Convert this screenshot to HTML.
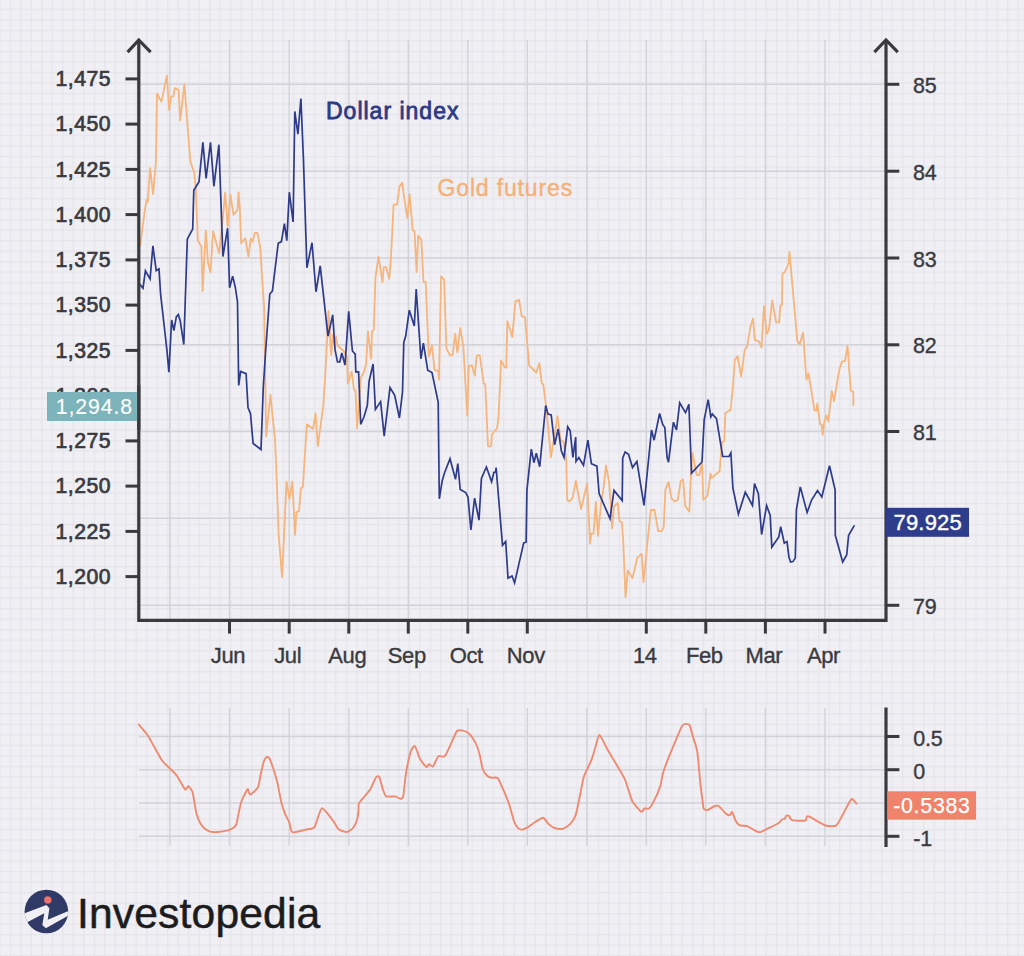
<!DOCTYPE html>
<html><head><meta charset="utf-8"><title>Dollar index vs Gold futures</title>
<style>
html,body{margin:0;padding:0;background:#f0eff4;}
body{width:1024px;height:956px;overflow:hidden;font-family:"Liberation Sans",sans-serif;}
svg{display:block;}
text{font-family:"Liberation Sans",sans-serif;}
</style></head><body>
<svg width="1024" height="956" viewBox="0 0 1024 956">
<defs>
<pattern id="fine" x="-0.85" y="8.65" width="10.498" height="10.515" patternUnits="userSpaceOnUse">
<rect x="0" y="0" width="10.6" height="10.6" fill="#f0eff4"/>
<rect x="0" y="0" width="1.3" height="10.6" fill="#e6e5eb"/>
<rect x="0" y="0" width="10.6" height="1.3" fill="#e6e5eb"/>
</pattern>
<clipPath id="lc"><circle cx="46.4" cy="911.5" r="21.8"/></clipPath>
</defs>
<rect width="1024" height="956" fill="url(#fine)"/>

<line x1="170" y1="40" x2="170" y2="619" stroke="#d2d2d9" stroke-width="1.4" />
<line x1="170" y1="708" x2="170" y2="846" stroke="#d2d2d9" stroke-width="1.4" />
<line x1="229.5" y1="40" x2="229.5" y2="619" stroke="#d2d2d9" stroke-width="1.4" />
<line x1="229.5" y1="708" x2="229.5" y2="846" stroke="#d2d2d9" stroke-width="1.4" />
<line x1="289.2" y1="40" x2="289.2" y2="619" stroke="#d2d2d9" stroke-width="1.4" />
<line x1="289.2" y1="708" x2="289.2" y2="846" stroke="#d2d2d9" stroke-width="1.4" />
<line x1="348.8" y1="40" x2="348.8" y2="619" stroke="#d2d2d9" stroke-width="1.4" />
<line x1="348.8" y1="708" x2="348.8" y2="846" stroke="#d2d2d9" stroke-width="1.4" />
<line x1="408.3" y1="40" x2="408.3" y2="619" stroke="#d2d2d9" stroke-width="1.4" />
<line x1="408.3" y1="708" x2="408.3" y2="846" stroke="#d2d2d9" stroke-width="1.4" />
<line x1="467.8" y1="40" x2="467.8" y2="619" stroke="#d2d2d9" stroke-width="1.4" />
<line x1="467.8" y1="708" x2="467.8" y2="846" stroke="#d2d2d9" stroke-width="1.4" />
<line x1="527.3" y1="40" x2="527.3" y2="619" stroke="#d2d2d9" stroke-width="1.4" />
<line x1="527.3" y1="708" x2="527.3" y2="846" stroke="#d2d2d9" stroke-width="1.4" />
<line x1="586.8" y1="40" x2="586.8" y2="619" stroke="#d2d2d9" stroke-width="1.4" />
<line x1="586.8" y1="708" x2="586.8" y2="846" stroke="#d2d2d9" stroke-width="1.4" />
<line x1="646.3" y1="40" x2="646.3" y2="619" stroke="#d2d2d9" stroke-width="1.4" />
<line x1="646.3" y1="708" x2="646.3" y2="846" stroke="#d2d2d9" stroke-width="1.4" />
<line x1="705.8" y1="40" x2="705.8" y2="619" stroke="#d2d2d9" stroke-width="1.4" />
<line x1="705.8" y1="708" x2="705.8" y2="846" stroke="#d2d2d9" stroke-width="1.4" />
<line x1="765.4" y1="40" x2="765.4" y2="619" stroke="#d2d2d9" stroke-width="1.4" />
<line x1="765.4" y1="708" x2="765.4" y2="846" stroke="#d2d2d9" stroke-width="1.4" />
<line x1="825" y1="40" x2="825" y2="619" stroke="#d2d2d9" stroke-width="1.4" />
<line x1="825" y1="708" x2="825" y2="846" stroke="#d2d2d9" stroke-width="1.4" />
<line x1="140" y1="84.3" x2="885" y2="84.3" stroke="#d2d2d9" stroke-width="1.4" />
<line x1="140" y1="171.2" x2="885" y2="171.2" stroke="#d2d2d9" stroke-width="1.4" />
<line x1="140" y1="258" x2="885" y2="258" stroke="#d2d2d9" stroke-width="1.4" />
<line x1="140" y1="344.8" x2="885" y2="344.8" stroke="#d2d2d9" stroke-width="1.4" />
<line x1="140" y1="431.5" x2="885" y2="431.5" stroke="#d2d2d9" stroke-width="1.4" />
<line x1="140" y1="518.3" x2="885" y2="518.3" stroke="#d2d2d9" stroke-width="1.4" />
<line x1="140" y1="605.3" x2="885" y2="605.3" stroke="#d2d2d9" stroke-width="1.4" />
<line x1="139" y1="736.5" x2="885" y2="736.5" stroke="#d2d2d9" stroke-width="1.4" />
<line x1="139" y1="769.7" x2="885" y2="769.7" stroke="#d2d2d9" stroke-width="1.4" />
<line x1="139" y1="803" x2="885" y2="803" stroke="#d2d2d9" stroke-width="1.4" />
<line x1="139" y1="836.3" x2="885" y2="836.3" stroke="#d2d2d9" stroke-width="1.4" />
<polyline fill="none" stroke="#f5b57c" stroke-width="1.8" stroke-linejoin="round" stroke-linecap="round" points="140.2,245.5 144.1,215.7 146.5,199.6 147.7,202 150.1,168.2 153.1,194.1 155.9,162 157,93.7 161.4,101.6 166.9,75.7 169.2,110.2 171.1,96.9 173.6,96.1 174.7,88.2 178.6,89.8 180.2,120.4 184.4,84.3 187.3,122.7 190.4,161.2 194.3,172.9 195.9,190.2 197.8,240.8 201.4,246.3 202.6,291 205.8,230.6 208,262.7 210.5,272.2 213.1,231.4 219.1,253.3 221.8,228.2 225.2,192.5 227.6,226.7 230.4,194.9 233.5,214.9 237.5,210.2 238.5,192.5 239.8,207.8 241.1,243.1 245.3,238.4 248.4,256.5 250.8,238.4 252.7,241.6 254.7,232.9 257.4,232.9 260.2,247.1 261.8,273.7 264.1,306.7 266.2,436.5 270.4,394.9 275.1,440.4 277.1,490.2 278.6,534.1 282.1,577.3 284.1,534.1 286.5,481.6 289.4,499 292.3,481.6 295.1,534.9 296.4,512.2 299,511.4 300.9,488.6 302.9,486.3 304.5,461 306.9,424.3 313.1,429 315.5,413.3 317.8,446.3 323.3,405.5 325.2,375.7 327.3,336.1 328.5,311 331.2,354.9 333.1,334.5 334.3,343.9 335.9,336.1 337.5,345.5 343.7,351 346.9,356.5 348,383.5 351.6,371.8 353.9,389 355.5,391.4 357.1,428.2 361,377.3 364.1,371.8 366,365 368,331.4 371.2,358.8 372,331.4 373.8,329.8 375.4,278 378.5,256.9 382.5,282 383.7,267.1 386.1,267.1 389.2,278.8 390.8,260.8 393.6,204.7 397.1,204.7 399.4,186.7 402.2,182.7 404.9,202.4 407.3,218 409.6,194.5 412,221.2 412.7,230.2 414.5,231 416.6,272 418.2,235.7 421.3,239.6 423.5,282 425.7,282 428.8,356.5 432,345.5 434.6,370.2 438.2,371 439,379.6 441.1,276.5 444.2,279.6 446.4,348.6 450.3,355.7 452.7,354.9 455.2,333.7 457.4,352.5 460.2,328.2 463.3,345.5 467.3,415.7 468.8,366 472,365.3 474.8,375.7 476.7,355.7 479.8,355.2 483.7,383.5 485.3,384.3 488,446.3 491.1,446.3 491.9,434.5 497.1,428.2 498.6,416.5 501,360.4 504.5,367 506.2,367.8 507.3,321.2 512.3,336.9 515.4,301.6 519,299.7 521.7,316 525,317.6 529.2,365.5 536.3,372.5 539.4,363.3 541.8,383.5 543.3,384.3 545.7,403.1 548,425.9 550.9,457.3 557.5,416.5 560.6,440 563.8,442.4 566.3,460.6 567.1,499.8 569.4,501.4 572.5,498.2 575.8,481 581.1,509 587.1,483.3 590.1,543.7 591.2,533.5 593.6,533.5 595.8,501.8 598,535.9 601,504 603.6,487.3 606,465.3 609,482 610.5,499.8 612.2,528.4 613.9,506.5 617.8,502.9 619.5,521.4 621.8,521.8 623.2,540.3 625.5,597.1 627.8,570.4 632.5,578.2 637.3,557.8 641.6,553.9 643.5,582.2 647.5,542 650.8,510 654.5,510 658.2,531 661.4,531.2 663.7,527 665.4,489.6 668.5,482.2 671.6,498.6 674.7,501.4 677.8,499.8 680.8,481 683.1,479.4 685.2,506.1 689.4,511.6 690.8,477.8 692.5,452.7 696.5,474.7 699,475.5 702,463.7 703.3,499.8 707.5,495.6 710.5,473.6 711.8,477.9 719.6,471.3 722,442 724.3,441.2 725.4,412.9 730.6,409.8 732.8,388 734.8,360 737.6,356.1 741.1,376.5 744.7,349.8 747.1,346.7 750.2,327.8 753,318.4 754.9,340.4 758.8,341.2 761.5,347.5 764,305.9 766.7,334.1 769,329.4 772.2,300.4 776.1,322.4 779.2,322.4 780.3,305.9 781.9,305.1 782.4,273.7 784.7,272.2 788.6,263.5 789.4,251.8 792.5,286.3 797.3,341.2 799.6,344.3 803.1,332.5 806.4,379.6 808.5,373.3 810.5,385 814.5,410.6 816.4,410.6 817.3,403.5 820,423.9 821.6,424.7 822.7,434.9 823.9,423.9 826.3,415.3 828.3,421.6 831.8,391 834.1,401.2 837.5,380 839.6,368.6 842,361.6 845.1,360.8 847.5,345.9 850.6,387.5 851,391 853.3,391.8 853.4,405.1"/>
<polyline fill="none" stroke="#2e3b8a" stroke-width="1.7" stroke-linejoin="miter" stroke-linecap="round" points="139.4,283.9 143,288.2 145.4,270.9 150.1,278.9 152.9,245.8 156.2,270.6 159,269 160.6,294.1 166.9,350 168.9,372.2 171.6,320 173.9,330.5 176.3,316.9 178.3,314.5 180.2,320.8 183.8,344.5 187.3,239.2 192.7,229 193.8,190.2 199,181.6 202.9,142.4 206.1,178.4 210.5,142.4 213.9,186.3 218.9,144.7 222.9,256.5 227.6,228.2 229.6,287.8 232.7,276.1 235.4,287.8 237.5,302 238.7,385.5 240.6,371.4 246.1,373.7 248,407.5 250.5,413.7 253.1,443.5 261,449.5 263.3,387 265.7,350 269.8,294 272.4,291.2 278.2,243.3 281.4,241.6 284.4,223.7 286.8,240.6 289.3,192.2 293.1,222 294.8,111.4 297.9,134.1 300.9,98.5 303.4,158.4 306.9,267.8 312,242.7 316,291.8 320.2,265.8 328,336.1 332.7,314.9 335.1,350.2 337.5,362 339.8,362 341.8,353 345,365 348.7,311.3 352.4,351 355.2,354.1 355.8,371.8 358.6,371.8 360.7,424.3 364.1,416.5 367.3,405.5 369.1,381.2 373.1,364 375.4,409.4 380.6,401.6 384.2,436.1 390,387.5 394.7,395.3 399.4,418 402.5,392.2 403.8,342.4 405.7,336.1 409.3,310.2 414.3,325.9 416.2,289 420.9,358.8 423.4,343.1 427.7,370.2 432,372.5 438.2,402.4 439.3,498.8 442.2,480.8 444.5,472.9 450,458.8 455.5,479.3 457.8,463.5 460.2,489.5 465.7,492.6 468,497 470.9,529.9 474.6,498.1 479,520.2 481.4,478.5 486.4,467 491.6,481.7 493.9,472.3 495.6,472 496.1,467.5 502.5,545.3 505.7,541.4 508,578.2 512,575.9 514.6,582.9 523.7,542.9 526.1,542.2 526.9,490.4 531.3,449.1 533.9,462.7 536.3,453.3 539.7,466.7 545.7,405.5 548,414.1 551.2,414.9 554.6,444.7 558.2,429 561.4,451 564,457.4 567.7,426.8 570.2,430.8 572.9,457.5 575.7,437.1 576,461.4 578.8,457.5 583.5,465.3 587.9,440.2 591.4,463.7 596.9,466.1 599.1,493.5 610,518.6 614,490.4 622.2,500.6 622.7,458.2 625.1,452 628.5,454.3 632.5,467.6 636.9,461.4 644,505.3 651.5,430 654.1,440.2 659.6,413.5 662.7,424.5 664.8,427.6 667.1,457.5 668.5,462.2 673.4,422.2 676.5,430 679.7,402.9 685.5,412.7 688.9,404.4 691.5,473.1 702,462 704.2,419.5 708.2,399.6 710.8,416.8 712.3,414 716.5,418.7 722.7,456.5 729,456.5 730.9,452.9 732.9,488.2 738.4,514.1 745.3,492.2 752.5,505.5 754.5,483.5 758.4,493.7 761.6,534.5 766.6,505.5 770.2,515.5 771.8,547.1 778.8,536.9 780.7,526.7 784.3,543.1 787,541.6 789,557.3 790.6,562 792.9,561.6 795.3,558 796.4,509.5 800.3,486.9 807.1,512.5 811.6,500 817.5,490.6 821.8,496.9 829.5,465.8 835.1,489.8 835.3,535.3 842.7,562 846.7,554.9 848.6,535.3 854.1,525.9"/>
<path fill="none" stroke="#ee8a71" stroke-width="1.9" stroke-linejoin="round" stroke-linecap="round" d="M138.8 724.5 C139.7 725.6 145.9 732.9 147.6 735.3 C149.3 737.7 153.9 746.4 155.4 748.9 C156.9 751.4 160.7 758.7 162.2 760.7 C163.7 762.7 168.5 767.0 170.0 768.5 C171.5 770.0 175.4 773.6 176.9 775.7 C178.4 777.8 184.0 788.4 185.1 789.4 C186.2 790.4 187.5 785.9 188.2 786.1 C188.9 786.4 191.9 790.2 192.5 791.9 C193.1 793.6 194.1 800.6 194.5 802.7 C194.9 804.9 195.8 811.4 196.4 813.4 C197.0 815.4 199.4 821.6 200.3 823.2 C201.2 824.8 204.2 828.2 205.2 829.0 C206.2 829.8 208.8 831.3 210.1 831.6 C211.4 831.9 216.1 832.1 217.9 832.0 C219.7 831.9 226.1 830.8 227.7 830.4 C229.3 830.0 232.6 828.3 233.5 827.7 C234.4 827.1 235.9 825.4 236.4 824.1 C236.9 822.8 237.9 816.6 238.4 814.4 C238.9 812.2 240.7 803.6 241.3 801.7 C241.9 799.8 243.7 796.5 244.3 795.2 C245.0 793.9 247.2 789.1 247.8 789.0 C248.4 788.9 249.1 794.7 250.1 794.5 C251.1 794.3 256.8 789.5 257.9 787.4 C259.0 785.3 260.3 776.0 260.9 773.4 C261.5 770.8 263.2 763.3 263.8 761.6 C264.4 759.9 266.1 757.1 266.7 756.8 C267.3 756.5 268.9 757.4 269.6 758.7 C270.3 760.0 272.8 767.1 273.6 769.5 C274.4 771.9 276.7 779.8 277.5 783.1 C278.3 786.4 280.6 799.6 281.4 802.7 C282.2 805.8 284.5 812.4 285.3 814.4 C286.1 816.4 288.5 820.4 289.2 822.2 C289.9 824.0 290.8 831.6 292.5 832.3 C294.2 833.0 303.6 830.1 305.8 829.6 C308.0 829.1 312.9 829.2 314.5 827.1 C316.1 825.0 319.9 808.9 321.8 808.3 C323.7 807.7 331.8 819.1 333.4 821.2 C335.0 823.3 337.2 828.0 338.3 829.0 C339.4 830.0 343.2 831.3 344.2 831.6 C345.2 831.9 347.2 832.0 348.1 831.6 C349.0 831.2 352.1 829.1 353.0 828.0 C353.9 826.9 356.4 821.8 356.9 820.2 C357.4 818.6 358.2 814.1 358.4 812.4 C358.6 810.7 358.5 804.9 358.8 803.6 C359.1 802.3 360.6 801.2 361.8 799.7 C363.0 798.2 369.1 791.2 370.5 789.0 C371.9 786.8 375.1 778.5 376.0 777.3 C376.9 776.1 378.6 775.7 379.3 776.9 C380.0 778.1 382.0 787.0 382.7 789.0 C383.4 791.0 385.0 795.7 386.2 796.4 C387.4 797.1 393.6 796.2 395.0 796.4 C396.4 796.6 399.4 798.8 400.2 798.8 C401.0 798.8 402.6 798.8 403.2 796.4 C403.8 794.0 405.0 779.8 405.7 775.3 C406.4 770.8 409.7 754.8 410.6 751.9 C411.5 749.0 414.0 745.4 414.9 746.0 C415.8 746.6 418.6 755.9 419.4 757.7 C420.2 759.5 422.6 762.7 423.3 763.6 C424.0 764.5 426.0 767.0 426.6 767.1 C427.2 767.2 428.5 764.3 429.1 764.2 C429.7 764.1 432.1 767.3 433.0 766.5 C433.9 765.7 437.1 757.2 438.3 756.2 C439.5 755.2 443.4 757.8 444.8 756.2 C446.2 754.6 451.4 742.7 452.6 740.2 C453.8 737.7 456.0 732.0 456.9 731.0 C457.8 730.0 460.4 730.3 461.4 730.4 C462.4 730.5 466.1 731.6 467.2 732.3 C468.3 733.0 471.1 735.8 472.1 737.2 C473.1 738.6 476.2 744.1 477.0 746.0 C477.8 747.9 479.3 753.4 479.9 755.8 C480.5 758.1 482.1 767.5 482.9 769.5 C483.7 771.5 486.8 775.5 487.7 776.3 C488.6 777.1 490.6 777.5 491.6 777.7 C492.6 777.9 496.6 776.7 497.9 778.3 C499.2 779.9 503.7 790.6 504.9 793.4 C506.1 796.2 508.8 803.1 509.7 806.0 C510.6 808.9 513.5 820.0 514.4 822.2 C515.3 824.4 517.5 827.7 518.3 828.4 C519.1 829.1 521.3 829.7 522.2 829.6 C523.1 829.5 525.8 828.4 527.1 827.7 C528.4 827.0 533.3 823.2 534.9 822.2 C536.5 821.2 541.7 817.5 543.1 817.7 C544.5 817.9 547.5 823.1 548.6 824.1 C549.7 825.1 553.2 827.5 554.5 828.0 C555.8 828.5 560.0 829.1 561.3 829.0 C562.6 828.9 566.0 827.2 567.1 826.5 C568.2 825.8 571.1 823.0 572.0 821.8 C572.9 820.6 575.2 816.5 575.9 814.4 C576.6 812.3 578.3 803.5 578.9 800.7 C579.5 797.9 581.3 788.6 581.8 786.1 C582.3 783.6 583.3 777.9 584.3 775.3 C585.3 772.7 590.5 762.5 591.6 759.7 C592.7 756.9 594.7 749.5 595.5 747.0 C596.3 744.5 598.2 734.7 599.4 734.9 C600.6 735.1 605.4 745.8 607.2 748.9 C609.0 752.0 615.2 762.5 617.0 765.5 C618.8 768.5 623.6 776.7 624.8 779.2 C626.0 781.7 627.9 788.6 628.7 790.9 C629.5 793.1 631.3 799.6 632.6 801.7 C633.9 803.8 640.2 811.1 641.4 811.8 C642.6 812.5 643.5 808.8 644.3 808.5 C645.1 808.2 648.2 809.3 649.2 808.5 C650.2 807.7 653.0 802.9 654.1 800.7 C655.2 798.5 659.4 788.8 660.3 786.1 C661.2 783.4 662.0 776.5 662.9 773.4 C663.8 770.3 668.2 758.5 669.7 754.8 C671.2 751.1 676.3 739.0 677.6 736.0 C678.9 733.0 681.6 726.5 682.5 725.3 C683.4 724.1 685.8 723.9 686.5 723.9 C687.2 723.9 689.0 724.1 689.7 725.5 C690.4 726.9 692.6 735.6 693.4 738.2 C694.2 740.8 696.6 747.4 697.3 751.9 C698.0 756.4 699.8 778.0 700.3 783.1 C700.8 788.2 702.5 800.2 702.8 802.7 C703.1 805.2 703.2 807.8 703.6 808.5 C704.0 809.2 706.0 810.4 707.1 810.1 C708.2 809.9 713.7 806.4 714.9 806.0 C716.1 805.6 717.8 805.4 718.8 806.0 C719.8 806.6 723.6 811.5 724.7 812.4 C725.8 813.3 728.9 815.4 729.6 815.4 C730.3 815.4 731.5 811.5 732.1 812.0 C732.7 812.5 734.7 818.9 735.4 820.2 C736.1 821.5 738.1 824.5 739.3 825.1 C740.5 825.7 745.7 825.7 747.1 826.1 C748.5 826.5 751.8 828.8 753.0 829.4 C754.2 830.0 757.8 832.5 759.5 832.3 C761.2 832.1 767.7 828.6 769.6 827.7 C771.5 826.8 777.1 824.0 778.4 823.2 C779.7 822.4 781.7 819.7 782.3 819.3 C782.9 818.9 784.4 819.3 784.8 818.9 C785.2 818.5 785.8 816.0 786.2 815.7 C786.6 815.4 788.2 815.2 788.8 815.7 C789.4 816.2 790.5 819.7 792.1 820.2 C793.7 820.7 803.7 821.0 805.2 820.6 C806.7 820.2 806.3 817.1 806.7 816.7 C807.1 816.3 808.4 816.2 809.6 816.7 C810.8 817.2 816.7 820.9 818.4 821.8 C820.1 822.7 824.5 825.3 826.3 825.7 C828.1 826.1 834.4 826.6 836.0 825.7 C837.6 824.8 840.4 818.9 841.9 816.3 C843.4 813.7 849.8 800.6 851.3 799.3 C852.8 798.0 856.0 803.2 856.5 803.6"/>
<path d="M138.8 40 V620.4 H886 V40" fill="none" stroke="#3a3a3e" stroke-width="3.2" stroke-linejoin="miter"/>
<path d="M127.6 52.2 L138.8 40 L150.6 52.2" fill="none" stroke="#3a3a3e" stroke-width="3.2" stroke-linejoin="miter"/>
<path d="M874.4 52.2 L886 40 L897.8 52.2" fill="none" stroke="#3a3a3e" stroke-width="3.2" stroke-linejoin="miter"/>
<line x1="886" y1="707.5" x2="886" y2="847" stroke="#3a3a3e" stroke-width="3.2" />
<line x1="125.5" y1="78.9" x2="138.8" y2="78.9" stroke="#3a3a3e" stroke-width="3" />
<text x="111.2" y="86.0" text-anchor="end" font-size="21.2" fill="#3a3a3e" stroke="#3a3a3e" stroke-width="0.7" letter-spacing="0.55">1,475</text>
<line x1="125.5" y1="124.1" x2="138.8" y2="124.1" stroke="#3a3a3e" stroke-width="3" />
<text x="111.2" y="131.2" text-anchor="end" font-size="21.2" fill="#3a3a3e" stroke="#3a3a3e" stroke-width="0.7" letter-spacing="0.55">1,450</text>
<line x1="125.5" y1="169.4" x2="138.8" y2="169.4" stroke="#3a3a3e" stroke-width="3" />
<text x="111.2" y="176.5" text-anchor="end" font-size="21.2" fill="#3a3a3e" stroke="#3a3a3e" stroke-width="0.7" letter-spacing="0.55">1,425</text>
<line x1="125.5" y1="214.6" x2="138.8" y2="214.6" stroke="#3a3a3e" stroke-width="3" />
<text x="111.2" y="221.7" text-anchor="end" font-size="21.2" fill="#3a3a3e" stroke="#3a3a3e" stroke-width="0.7" letter-spacing="0.55">1,400</text>
<line x1="125.5" y1="259.9" x2="138.8" y2="259.9" stroke="#3a3a3e" stroke-width="3" />
<text x="111.2" y="267.0" text-anchor="end" font-size="21.2" fill="#3a3a3e" stroke="#3a3a3e" stroke-width="0.7" letter-spacing="0.55">1,375</text>
<line x1="125.5" y1="305.1" x2="138.8" y2="305.1" stroke="#3a3a3e" stroke-width="3" />
<text x="111.2" y="312.2" text-anchor="end" font-size="21.2" fill="#3a3a3e" stroke="#3a3a3e" stroke-width="0.7" letter-spacing="0.55">1,350</text>
<line x1="125.5" y1="350.4" x2="138.8" y2="350.4" stroke="#3a3a3e" stroke-width="3" />
<text x="111.2" y="357.5" text-anchor="end" font-size="21.2" fill="#3a3a3e" stroke="#3a3a3e" stroke-width="0.7" letter-spacing="0.55">1,325</text>
<line x1="125.5" y1="395.6" x2="138.8" y2="395.6" stroke="#3a3a3e" stroke-width="3" />
<text x="111.2" y="402.7" text-anchor="end" font-size="21.2" fill="#3a3a3e" stroke="#3a3a3e" stroke-width="0.7" letter-spacing="0.55">1,300</text>
<line x1="125.5" y1="440.9" x2="138.8" y2="440.9" stroke="#3a3a3e" stroke-width="3" />
<text x="111.2" y="448.0" text-anchor="end" font-size="21.2" fill="#3a3a3e" stroke="#3a3a3e" stroke-width="0.7" letter-spacing="0.55">1,275</text>
<line x1="125.5" y1="486.1" x2="138.8" y2="486.1" stroke="#3a3a3e" stroke-width="3" />
<text x="111.2" y="493.2" text-anchor="end" font-size="21.2" fill="#3a3a3e" stroke="#3a3a3e" stroke-width="0.7" letter-spacing="0.55">1,250</text>
<line x1="125.5" y1="531.4" x2="138.8" y2="531.4" stroke="#3a3a3e" stroke-width="3" />
<text x="111.2" y="538.5" text-anchor="end" font-size="21.2" fill="#3a3a3e" stroke="#3a3a3e" stroke-width="0.7" letter-spacing="0.55">1,225</text>
<line x1="125.5" y1="576.6" x2="138.8" y2="576.6" stroke="#3a3a3e" stroke-width="3" />
<text x="111.2" y="583.7" text-anchor="end" font-size="21.2" fill="#3a3a3e" stroke="#3a3a3e" stroke-width="0.7" letter-spacing="0.55">1,200</text>
<line x1="886" y1="84.3" x2="899.3" y2="84.3" stroke="#3a3a3e" stroke-width="3" />
<text x="913" y="92.9" font-size="21.5" fill="#3a3a3e" stroke="#3a3a3e" stroke-width="0.35" letter-spacing="-0.3">85</text>
<line x1="886" y1="171.2" x2="899.3" y2="171.2" stroke="#3a3a3e" stroke-width="3" />
<text x="913" y="179.8" font-size="21.5" fill="#3a3a3e" stroke="#3a3a3e" stroke-width="0.35" letter-spacing="-0.3">84</text>
<line x1="886" y1="258" x2="899.3" y2="258" stroke="#3a3a3e" stroke-width="3" />
<text x="913" y="266.6" font-size="21.5" fill="#3a3a3e" stroke="#3a3a3e" stroke-width="0.35" letter-spacing="-0.3">83</text>
<line x1="886" y1="344.8" x2="899.3" y2="344.8" stroke="#3a3a3e" stroke-width="3" />
<text x="913" y="353.4" font-size="21.5" fill="#3a3a3e" stroke="#3a3a3e" stroke-width="0.35" letter-spacing="-0.3">82</text>
<line x1="886" y1="431.5" x2="899.3" y2="431.5" stroke="#3a3a3e" stroke-width="3" />
<text x="913" y="440.1" font-size="21.5" fill="#3a3a3e" stroke="#3a3a3e" stroke-width="0.35" letter-spacing="-0.3">81</text>
<line x1="886" y1="605.3" x2="899.3" y2="605.3" stroke="#3a3a3e" stroke-width="3" />
<text x="913" y="613.9" font-size="21.5" fill="#3a3a3e" stroke="#3a3a3e" stroke-width="0.35" letter-spacing="-0.3">79</text>
<line x1="229.5" y1="620" x2="229.5" y2="633.6" stroke="#3a3a3e" stroke-width="3" />
<text x="228.0" y="663.4" text-anchor="middle" font-size="22" fill="#3a3a3e" stroke="#3a3a3e" stroke-width="0.35" letter-spacing="-0.4">Jun</text>
<line x1="289.2" y1="620" x2="289.2" y2="633.6" stroke="#3a3a3e" stroke-width="3" />
<text x="287.7" y="663.4" text-anchor="middle" font-size="22" fill="#3a3a3e" stroke="#3a3a3e" stroke-width="0.35" letter-spacing="-0.4">Jul</text>
<line x1="348.8" y1="620" x2="348.8" y2="633.6" stroke="#3a3a3e" stroke-width="3" />
<text x="347.3" y="663.4" text-anchor="middle" font-size="22" fill="#3a3a3e" stroke="#3a3a3e" stroke-width="0.35" letter-spacing="-0.4">Aug</text>
<line x1="408.3" y1="620" x2="408.3" y2="633.6" stroke="#3a3a3e" stroke-width="3" />
<text x="406.8" y="663.4" text-anchor="middle" font-size="22" fill="#3a3a3e" stroke="#3a3a3e" stroke-width="0.35" letter-spacing="-0.4">Sep</text>
<line x1="467.8" y1="620" x2="467.8" y2="633.6" stroke="#3a3a3e" stroke-width="3" />
<text x="466.3" y="663.4" text-anchor="middle" font-size="22" fill="#3a3a3e" stroke="#3a3a3e" stroke-width="0.35" letter-spacing="-0.4">Oct</text>
<line x1="527.3" y1="620" x2="527.3" y2="633.6" stroke="#3a3a3e" stroke-width="3" />
<text x="525.8" y="663.4" text-anchor="middle" font-size="22" fill="#3a3a3e" stroke="#3a3a3e" stroke-width="0.35" letter-spacing="-0.4">Nov</text>
<line x1="646.3" y1="620" x2="646.3" y2="633.6" stroke="#3a3a3e" stroke-width="3" />
<text x="644.8" y="663.4" text-anchor="middle" font-size="22" fill="#3a3a3e" stroke="#3a3a3e" stroke-width="0.35" letter-spacing="-0.4">14</text>
<line x1="705.8" y1="620" x2="705.8" y2="633.6" stroke="#3a3a3e" stroke-width="3" />
<text x="704.3" y="663.4" text-anchor="middle" font-size="22" fill="#3a3a3e" stroke="#3a3a3e" stroke-width="0.35" letter-spacing="-0.4">Feb</text>
<line x1="765.4" y1="620" x2="765.4" y2="633.6" stroke="#3a3a3e" stroke-width="3" />
<text x="763.9" y="663.4" text-anchor="middle" font-size="22" fill="#3a3a3e" stroke="#3a3a3e" stroke-width="0.35" letter-spacing="-0.4">Mar</text>
<line x1="825" y1="620" x2="825" y2="633.6" stroke="#3a3a3e" stroke-width="3" />
<text x="823.5" y="663.4" text-anchor="middle" font-size="22" fill="#3a3a3e" stroke="#3a3a3e" stroke-width="0.35" letter-spacing="-0.4">Apr</text>
<line x1="886" y1="736.5" x2="899.4" y2="736.5" stroke="#3a3a3e" stroke-width="3" />
<text x="913.3" y="745.7" font-size="21.5" fill="#3a3a3e" stroke="#3a3a3e" stroke-width="0.35" letter-spacing="-0.3">0.5</text>
<line x1="886" y1="769.7" x2="899.4" y2="769.7" stroke="#3a3a3e" stroke-width="3" />
<text x="913.3" y="778.9" font-size="21.5" fill="#3a3a3e" stroke="#3a3a3e" stroke-width="0.35" letter-spacing="-0.3">0</text>
<line x1="886" y1="836.3" x2="899.4" y2="836.3" stroke="#3a3a3e" stroke-width="3" />
<text x="913.3" y="845.5" font-size="21.5" fill="#3a3a3e" stroke="#3a3a3e" stroke-width="0.35" letter-spacing="-0.3">-1</text>
<rect x="47" y="392" width="90.5" height="29" fill="#7db4bb"/>
<path d="M138.8 385 V430" stroke="#3a3a3e" stroke-width="3.2"/>
<text x="55.7" y="414.2" font-size="21.2" fill="#ffffff" stroke="#ffffff" stroke-width="0.15" letter-spacing="0.95">1,294.8</text>
<rect x="886" y="507.8" width="83" height="29" fill="#2d3c8b"/>
<text x="893.5" y="530.3" font-size="22" fill="#ffffff" stroke="#ffffff" stroke-width="0.4" letter-spacing="0.2">79.925</text>
<rect x="887.4" y="791.3" width="88.6" height="28.4" fill="#f0836b"/>
<text x="893.2" y="813.4" font-size="21.3" fill="#ffffff" stroke="#ffffff" stroke-width="0.25" letter-spacing="0.75">-0.5383</text>
<text x="326" y="118.7" font-size="23" fill="#2c3a86" stroke="#2c3a86" stroke-width="0.8" letter-spacing="1">Dollar index</text>
<text x="437.5" y="196" font-size="23" fill="#f6b077" stroke="#f6b077" stroke-width="0.4" letter-spacing="0.85">Gold futures</text>
<circle cx="46.4" cy="911.5" r="21.8" fill="#2f3a66"/>
<path clip-path="url(#lc)" d="M22 914.2 L46.4 905 L49.4 908.3 L47.7 919.8 L70 910.3 L70 914.8 L45.8 928.3 L42.3 924.9 L44.3 913.2 L24 924 Z" fill="#f0eff4"/>
<circle cx="47.8" cy="899.9" r="3.7" fill="#ee716a"/>
<text x="77" y="928.1" font-size="42.6" fill="#1c1c1f" stroke="#1c1c1f" stroke-width="0.5" letter-spacing="0.15">Investopedia</text>
</svg></body></html>
